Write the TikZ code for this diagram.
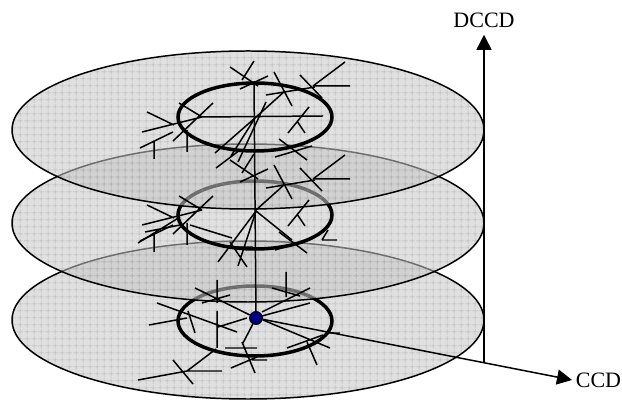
\documentclass[tikz,border=0pt]{standalone}
\usepackage{fontspec}
\setmainfont{Liberation Serif}
\usetikzlibrary{arrows.meta,patterns.meta}

\begin{document}
\begin{tikzpicture}[
    x=0.2mm, y=-0.2mm,
    disc/.style={fill=black!22, fill opacity=0.55},
    discgrid/.style={pattern={Hatch[distance=4pt, line width=0.4pt]}, pattern color=black!45, fill opacity=0.5},
    rim/.style={line width=0.85pt},
    ring/.style={line width=2pt},
    twig/.style={line width=0.85pt},
    axis/.style={line width=0.85pt, -{Triangle[length=3mm, width=3mm]}},
    axislabel/.style={font=\fontsize{12.5}{15}\selectfont}
]
\useasboundingbox (0,0) rectangle (622,401);

% Discs, lowest first
\foreach \cy/\iy/\ry in {320/321/35, 223/215/34, 130/117/34} {
    \fill[disc] (248,\cy) ellipse [x radius=236, y radius=79];
    \fill[discgrid] (248,\cy) ellipse [x radius=236, y radius=79];
    \draw[rim] (248,\cy) ellipse [x radius=236, y radius=79];
    \draw[ring] (255,\iy) ellipse [x radius=77, y radius=\ry];
}

% Centre point and stem
\node[circle, draw, fill=blue!55!black, minimum size=2.5mm, inner sep=0pt, line width=0.8pt] (dot) at (256,318) {};
\coordinate (stemtop) at (254,83);
\draw[twig] (stemtop) -- (dot);

% Branches, top and middle level
\foreach \dy in {0,93} {
    \begin{scope}[shift={(0,\dy)}]
        \draw[twig] (230,67) -- (258,86) (254,61) -- (242,80) (240,89) -- (268,76);
        \draw[twig] (255,118) -- (285,91) (274,72) -- (292,106) (266,95) -- (315,87);
        \draw[twig] (313,86) -- (345,62) (313,86) -- (350,86) (300,75) -- (322,98);
        \draw[twig] (288,133) -- (309,107) (297,121) -- (305,133);
        \draw[twig] (279,139) -- (307,160) (275,157) -- (312,146);
        \draw[twig] (147,112) -- (174,125) (142,132) -- (202,117) (173,141) -- (213,103)
                    (179,103) -- (202,117) (154,142) -- (154,159) (187,130) -- (187,152)
                    (140,148) -- (173,132);
    \end{scope}
}

% top level only
\draw[twig] (202,117) -- (323,116) (255,118) -- (215,153) (255,118) -- (231,156)
            (238,162) -- (266,102) (216,168) -- (240,150);

% middle level only
\draw[twig] (256,211) -- (292,240) (256,211) -- (218,262) (256,211) -- (238,266)
            (190,225) -- (232,238) (230,242) -- (247,267) (237,247) -- (253,247)
            (322,240) -- (337,240) (322,240) -- (328,230)
            (138,243) -- (180,217) (145,232) -- (180,225);

% bottom level
\draw[twig] (217,280) -- (217,303) (286,272) -- (286,297) (195,288) -- (dot)
            (202,303) -- (230,295) (310,288) -- (262,312) (262,316) -- (310,303)
            (272,288) -- (300,296);
\draw[twig] (157,303) -- (237,332) (149,325) -- (187,318) (188,311) -- (195,333)
            (217,311) -- (217,348) (218,327) -- (247,318) (dot) -- (243,343);
\draw[twig] (242,342) -- (255,373) (231,368) -- (257,357) (225,348) -- (257,348)
            (252,360) -- (267,360);
\draw[twig] (173,360) -- (193,384) (187,371) -- (222,371) (138,380) -- (187,371)
            (187,371) -- (216,349);
\draw[twig] (263,320) -- (330,348) (287,348) -- (323,335) (307,342) -- (317,365)
            (327,333) -- (340,333);

% Axes
\node[axislabel, inner sep=4pt] (dccd) at (484,20) {DCCD};
\node[axislabel, anchor=west, inner sep=2pt] (ccd) at (572,380) {CCD};
\coordinate (corner) at (484,362);
\draw[axis] (dot) -- (ccd.west);
\draw[axis] (corner) -- (dccd.south);

\end{tikzpicture}
\end{document}
